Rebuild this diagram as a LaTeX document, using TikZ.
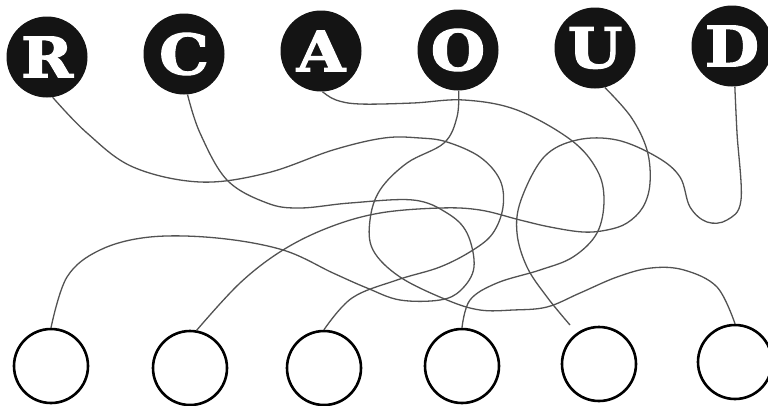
\documentclass[tikz,border=0pt]{standalone}
\usepackage{fontspec}
\newfontfamily\ballfont{DejaVu Serif}[BoldFeatures={FakeBold=2}, FakeStretch=1.12]
\usetikzlibrary{positioning}
\tikzstyle{ball} = [circle, fill=black!92, minimum size=81pt, inner sep=0pt, text=white, font=\ballfont\bfseries\fontsize{56}{56}\selectfont]
\tikzstyle{answer} = [circle, draw=black, line width=2.6pt, minimum size=74pt, inner sep=0pt]
\tikzstyle{wire} = [black!68, line width=1.3pt, line join=round]

\begin{document}
\begin{tikzpicture}[x=1pt,y=-1pt,node distance=137pt]
      \useasboundingbox (0,0) rectangle (768,405);
      % letters on top
      \node (r) [ball] at (47,57) {R};
      \node (c) [ball, right of=r, yshift=3pt] {C};
      \node (a) [ball, right of=c, yshift=3pt] {A};
      \node (o) [ball, right of=a, yshift=1pt] {O};
      \node (u) [ball, right of=o, yshift=2pt] {U};
      \node (d) [ball, right of=u, yshift=2pt] {D};
      % empty answer circles
      \node (c1) [answer] at (51,366) {};
      \node (c2) [answer, right of=c1, xshift=2pt, yshift=-2pt] {};
      \node (c3) [answer, right of=c2, xshift=-3pt] {};
      \node (c4) [answer, right of=c3, xshift=1pt, yshift=2pt] {};
      \node (c5) [answer, right of=c4, yshift=2pt] {};
      \node (c6) [answer, right of=c5, xshift=-1pt, yshift=2pt] {};
      \coordinate (dend) at (570,325);
      % tangled lines
      \draw [wire] plot [smooth, tension=0.6] coordinates {(r.-82) (87,133) (133,167) (200,182) (267,173) (333,150) (384,138) (420,138) (447,142) (480,157) (500,180) (503,207) (493,233) (473,250) (440,267) (397,280) (352,298) (c3.north)};
      \draw [wire] plot [smooth, tension=0.6] coordinates {(c.-85) (200,133) (227,180) (267,203) (300,208) (350,203) (413,200) (447,213) (467,233) (474,267) (461,290) (440,300) (400,300) (367,288) (333,273) (283,250) (217,238) (150,237) (100,250) (67,277) (c1.north)};
      \draw [wire] plot [smooth, tension=0.6] coordinates {(a.-88) (336,100) (360,104) (413,103) (464,100) (517,110) (571,140) (597,170) (604,200) (597,233) (573,257) (540,270) (497,283) (470,300) (c4.north)};
      \draw [wire] plot [smooth, tension=0.6] coordinates {(o.-89) (457,117) (444,143) (407,163) (380,190) (370,220) (373,250) (400,277) (447,300) (480,310) (513,310) (547,307) (580,293) (617,277) (651,268) (684,270) (717,287) (c6.north)};
      \draw [wire] plot [smooth, tension=0.6] coordinates {(u.-76) (631,117) (647,150) (650,183) (643,207) (627,223) (607,230) (583,232) (550,227) (520,220) (480,210) (440,208) (380,213) (330,227) (283,250) (240,283) (c2.80)};
      \draw [wire] plot [smooth, tension=0.6] coordinates {(d.-86) (737,133) (741,200) (727,220) (707,222) (690,207) (680,177) (657,157) (617,140) (577,140) (544,157) (521,200) (517,233) (527,267) (547,297) (dend)};
\end{tikzpicture}
\end{document}
